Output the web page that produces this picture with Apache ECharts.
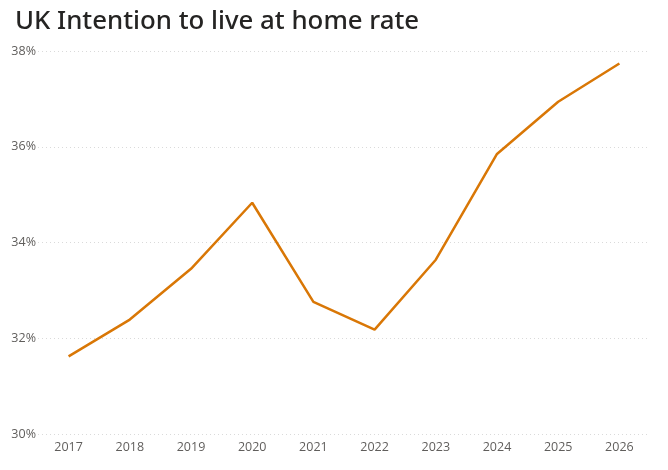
<!DOCTYPE html>
<html>
<head>
<meta charset="utf-8">
<script src="https://cdn.jsdelivr.net/npm/echarts@6/dist/echarts.min.js"></script>
<style>
html,body{margin:0;padding:0;background:#fff;}
#chart{width:668px;height:470px;}
</style>
</head>
<body>
<div id="chart"></div>
<script>
const titleText = "UK Intention to live at home rate";
const years = ["2017","2018","2019","2020","2021","2022","2023","2024","2025","2026"];
const rates = [31.62, 32.39, 33.45, 34.83, 32.76, 32.18, 33.64, 35.85, 36.94, 37.74];
const yTicks = [30, 32, 34, 36, 38];

const chart = echarts.init(document.getElementById('chart'));
chart.setOption({
  animation: false,
  backgroundColor: '#ffffff',
  title: {
    text: titleText,
    left: 10,
    top: 4,
    textStyle: {
      fontFamily: 'Noto Sans',
      fontWeight: 500,
      fontSize: 25.8,
      color: '#252423'
    }
  },
  grid: { left: 38, right: 18, top: 51, bottom: 36 },
  xAxis: {
    type: 'category',
    data: years,
    boundaryGap: true,
    axisLine: { show: false },
    axisTick: { show: false },
    axisLabel: {
      color: '#605E5C',
      fontFamily: 'Open Sans',
      fontSize: 12.5,
      margin: 7
    }
  },
  yAxis: {
    type: 'value',
    min: yTicks[0],
    max: yTicks[yTicks.length - 1],
    interval: 2,
    axisLine: { show: false },
    axisTick: { show: false },
    axisLabel: {
      color: '#605E5C',
      fontFamily: 'Open Sans',
      fontSize: 12.5,
      margin: 2,
      formatter: v => v + '%'
    },
    splitLine: {
      lineStyle: { color: '#DADADA', type: [1, 3], width: 1 }
    }
  },
  series: [{
    type: 'line',
    data: rates,
    showSymbol: false,
    symbol: 'none',
    lineStyle: { color: '#D97706', width: 2.5 },
    itemStyle: { color: '#D97706' }
  }]
});
</script>
</body>
</html>
